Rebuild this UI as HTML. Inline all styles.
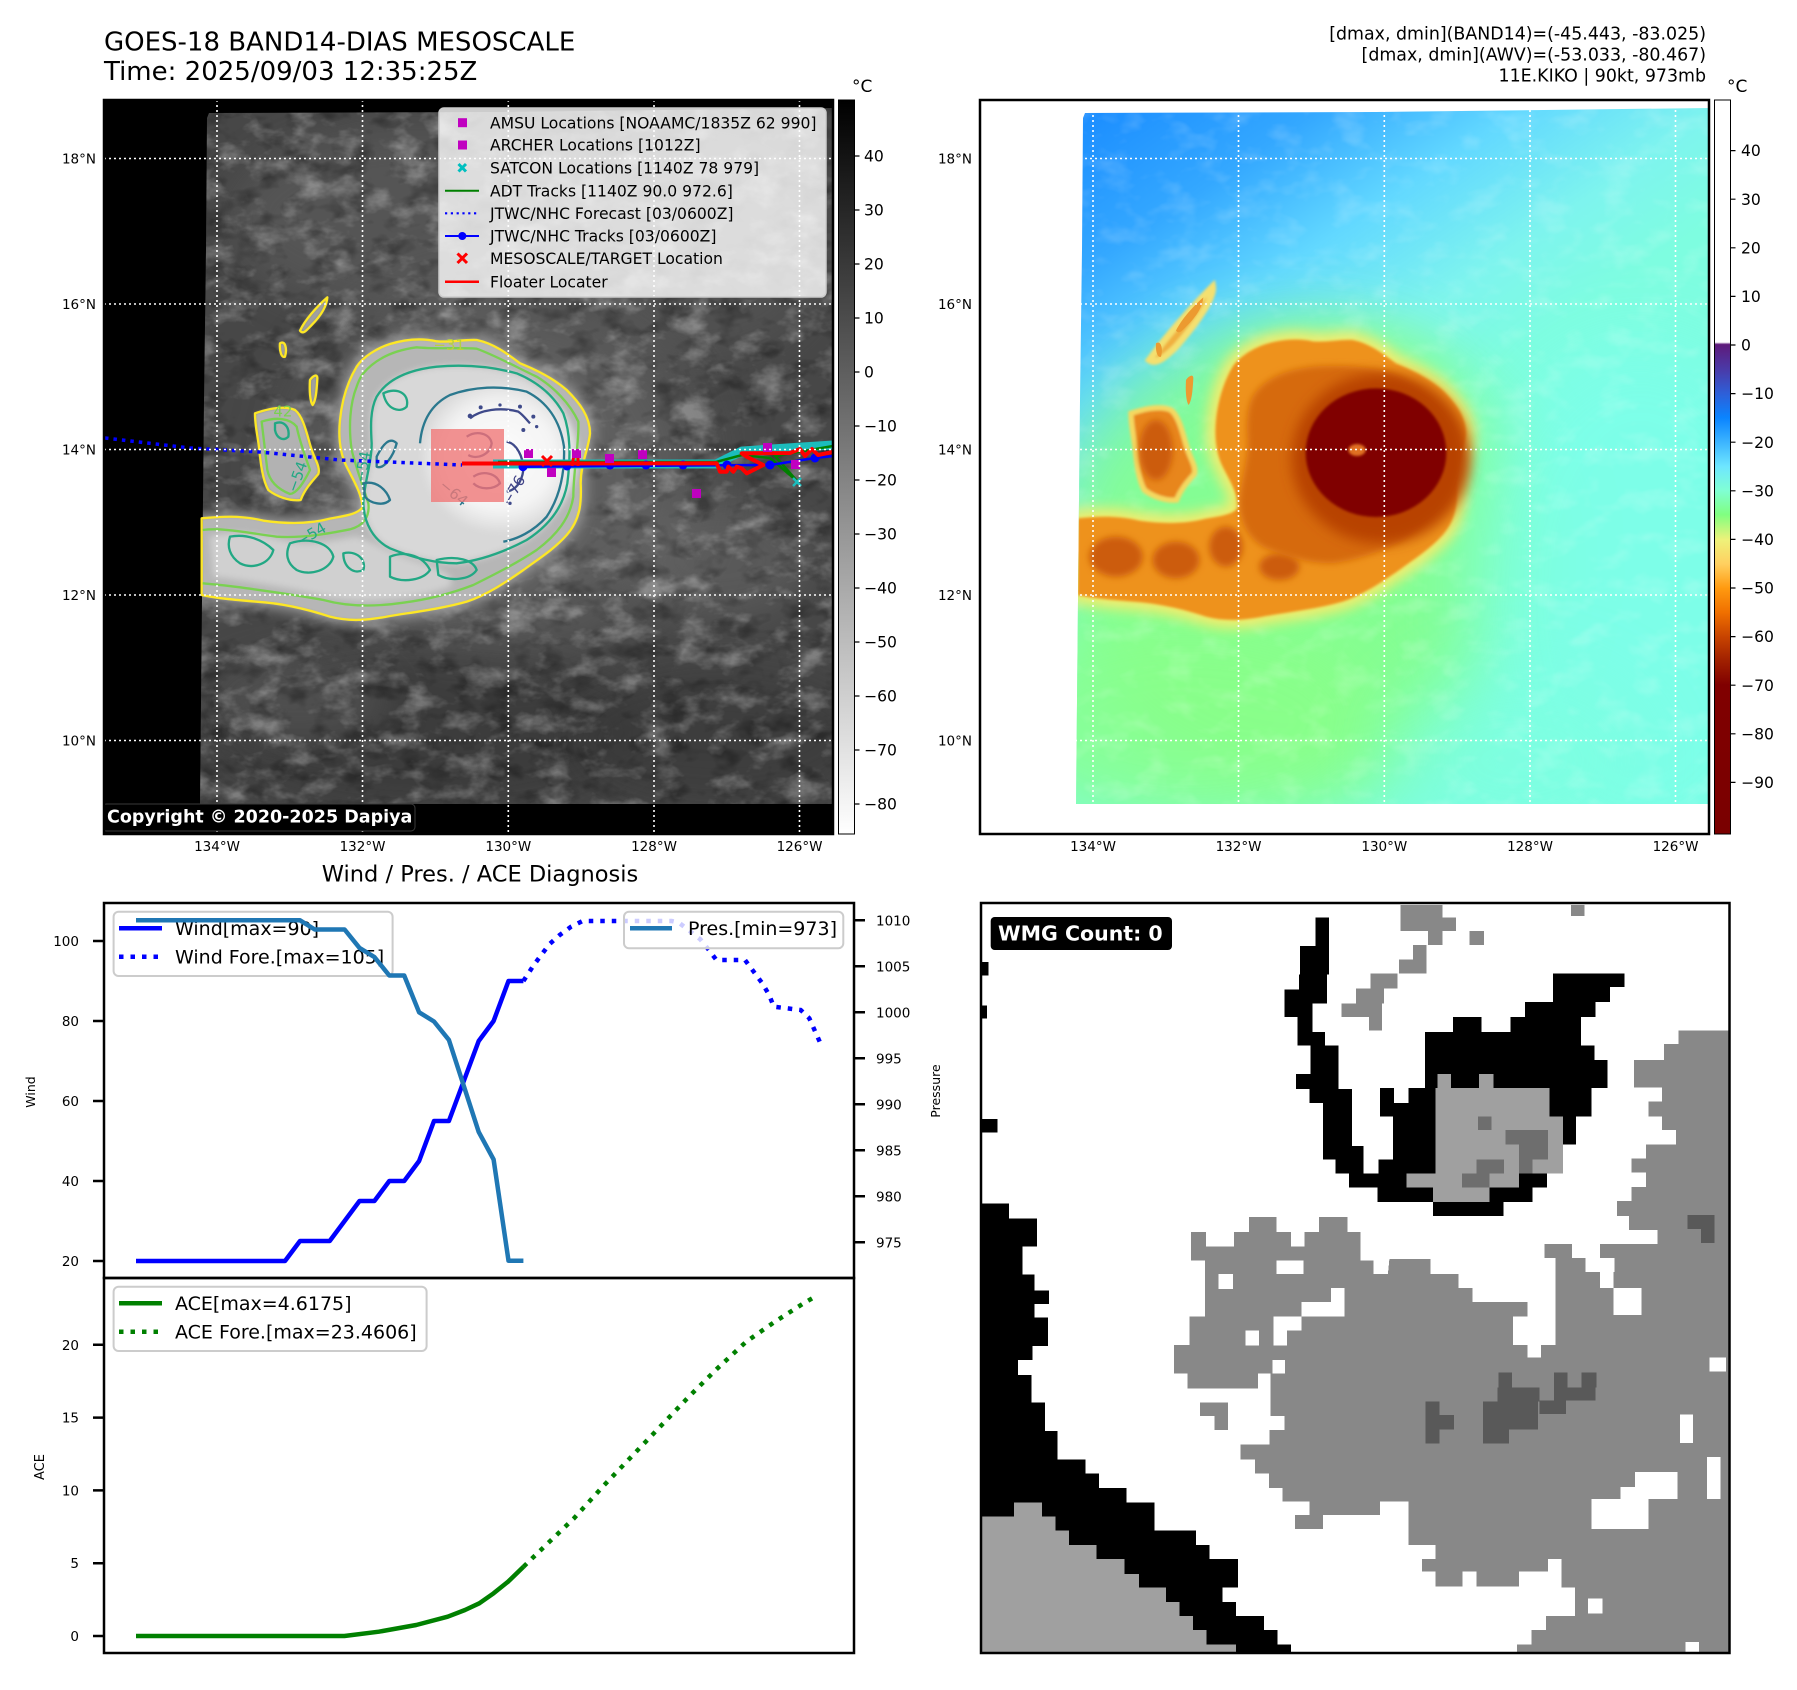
<!DOCTYPE html>
<html><head><meta charset="utf-8">
<style>
html,body{margin:0;padding:0;background:#fff;}
svg{display:block;}
text{font-family:"DejaVu Sans","Liberation Sans",sans-serif;}
</style></head><body>
<svg xmlns="http://www.w3.org/2000/svg" width="1797" height="1690" viewBox="0 0 1797 1690">
<defs>
<clipPath id="d1"><path d="M207,118 L209,113 L500,112 L833,108 L833,804 L200,804 L202,600 L204,400 L206,250 Z"/></clipPath>
<clipPath id="d2"><path d="M1083,118 L1085,113 L1376,112 L1709,108 L1709,804 L1076,804 L1078,600 L1080,400 L1082,250 Z"/></clipPath>
<clipPath id="m1"><rect x="104" y="100" width="729" height="734"/></clipPath>
<clipPath id="m2"><rect x="980" y="100" width="729" height="734"/></clipPath>
<clipPath id="wm"><rect x="981" y="903" width="748.5" height="750"/></clipPath>
<filter id="bl4" x="-50%" y="-50%" width="200%" height="200%"><feGaussianBlur stdDeviation="4"/></filter>
<filter id="bl10" x="-50%" y="-50%" width="200%" height="200%"><feGaussianBlur stdDeviation="10"/></filter>
<filter id="bl20" x="-50%" y="-50%" width="200%" height="200%"><feGaussianBlur stdDeviation="20"/></filter>
<filter id="bl35" x="-50%" y="-50%" width="200%" height="200%"><feGaussianBlur stdDeviation="35"/></filter>
<filter id="nz1" filterUnits="userSpaceOnUse" x="104" y="100" width="729" height="734">
<feTurbulence type="fractalNoise" baseFrequency="0.028 0.045" numOctaves="4" seed="4"/>
<feColorMatrix type="matrix" values="0 0 0 0 1  0 0 0 0 1  0 0 0 0 1  3 0 0 0 -1.45"/></filter>
<filter id="nz2" filterUnits="userSpaceOnUse" x="104" y="100" width="729" height="734">
<feTurbulence type="fractalNoise" baseFrequency="0.035 0.05" numOctaves="3" seed="11"/>
<feColorMatrix type="matrix" values="0 0 0 0 0  0 0 0 0 0  0 0 0 0 0  3 0 0 0 -1.45"/></filter>
<filter id="nz3" filterUnits="userSpaceOnUse" x="980" y="100" width="729" height="734">
<feTurbulence type="fractalNoise" baseFrequency="0.03 0.045" numOctaves="3" seed="5"/>
<feColorMatrix type="matrix" values="0 0 0 0 1  0 0 0 0 1  0 0 0 0 1  3 0 0 0 -1.45"/></filter>
<linearGradient id="cbg" x1="0" y1="0" x2="0" y2="1">
<stop offset="0" stop-color="#000"/><stop offset="1" stop-color="#fff"/></linearGradient>
<linearGradient id="cbc" x1="0" y1="0" x2="0" y2="1">
<stop offset="0" stop-color="#fff"/><stop offset="0.330" stop-color="#fff"/>
<stop offset="0.333" stop-color="#5e1a7a"/><stop offset="0.367" stop-color="#4a3aa8"/>
<stop offset="0.400" stop-color="#2e5fd8"/><stop offset="0.433" stop-color="#0a84ff"/>
<stop offset="0.466" stop-color="#3cb4ff"/><stop offset="0.499" stop-color="#6ee6ff"/>
<stop offset="0.532" stop-color="#80ffd4"/><stop offset="0.565" stop-color="#80ff80"/>
<stop offset="0.599" stop-color="#eef27a"/><stop offset="0.632" stop-color="#ffd060"/>
<stop offset="0.665" stop-color="#ff9a10"/><stop offset="0.698" stop-color="#f07000"/>
<stop offset="0.731" stop-color="#c84400"/><stop offset="0.764" stop-color="#a02000"/>
<stop offset="0.797" stop-color="#800000"/><stop offset="1" stop-color="#7a0000"/></linearGradient>
<linearGradient id="skyg" gradientUnits="userSpaceOnUse" x1="1080" y1="110" x2="1330" y2="480">
<stop offset="0" stop-color="#1a8cff"/><stop offset="0.3" stop-color="#34a8ff"/>
<stop offset="0.55" stop-color="#62d8ff"/><stop offset="0.8" stop-color="#7ef4ee"/>
<stop offset="1" stop-color="#7efde0"/></linearGradient>
<radialGradient id="coreg" cx="0.5" cy="0.5" r="0.5">
<stop offset="0" stop-color="#fdfdfd"/><stop offset="0.7" stop-color="#f4f4f4"/><stop offset="1" stop-color="#dcdcdc"/></radialGradient>
<path id="pout" d="M500,290 C520,260 560,235 600,222 C650,207 700,205 740,214 C780,218 820,208 860,210 C910,220 950,250 990,280 C1040,300 1090,325 1130,360 C1170,400 1200,440 1200,490 C1195,540 1172,580 1172,640 C1175,700 1170,750 1130,795 C1090,840 1040,870 1000,900 C950,935 890,975 830,995 C760,1015 680,1025 600,1038 C540,1050 480,1056 420,1040 C360,1020 280,1000 200,995 C140,990 80,985 35,975 L35,745 C90,740 150,735 220,752 C290,762 360,762 420,746 C460,738 500,735 518,712 C515,670 490,630 470,590 C450,550 445,500 450,450 C455,400 470,340 500,290 Z"/>
<path id="pisl" d="M195,430 C230,418 280,405 315,420 C340,440 350,490 362,530 C372,565 392,590 385,612 C370,630 345,655 332,690 C300,694 260,680 235,660 C218,630 212,580 208,540 C204,500 195,470 195,430 Z"/>
<path id="pstr" d="M330,182 C345,150 380,110 412,82 C410,110 390,140 365,165 C350,180 340,195 330,182 Z M360,330 C368,318 382,310 382,325 C380,360 378,390 368,405 C360,395 358,360 360,330 Z M270,220 C285,210 292,235 285,260 C275,265 268,245 270,220 Z"/>
<path id="pmid" d="M560,380 C590,330 650,300 740,290 C820,283 900,288 980,310 C1040,335 1090,375 1120,430 C1142,490 1142,560 1132,640 C1120,710 1080,765 1010,810 C950,842 880,870 800,880 C730,880 660,860 600,835 C550,810 522,760 520,700 C522,640 545,580 545,520 C542,470 540,420 560,380 Z"/>
<path id="pband" d="M60,800 C120,780 200,790 280,810 C360,830 430,810 500,800 C560,820 620,860 700,880 C760,900 800,920 780,950 C720,975 640,985 560,990 C480,995 400,980 320,960 C240,945 150,930 70,920 Z"/>
</defs>

<rect x="0" y="0" width="1797" height="1690" fill="#fff"/>

<!-- Titles -->
<text x="104" y="50.5" font-size="26">GOES-18 BAND14-DIAS MESOSCALE</text>
<text x="104" y="80" font-size="26">Time: 2025/09/03 12:35:25Z</text>
<text x="1706" y="39.5" font-size="17.4" text-anchor="end">[dmax, dmin](BAND14)=(-45.443, -83.025)</text>
<text x="1706" y="60.5" font-size="17.4" text-anchor="end">[dmax, dmin](AWV)=(-53.033, -80.467)</text>
<text x="1706" y="81.5" font-size="17.4" text-anchor="end">11E.KIKO | 90kt, 973mb</text>

<!-- ================= MAP 1 (grayscale) ================= -->
<g clip-path="url(#m1)">
<rect x="104" y="100" width="729" height="734" fill="#000"/>
<g clip-path="url(#d1)">
<rect x="104" y="100" width="729" height="734" fill="#474747"/>
<ellipse cx="420" cy="220" rx="190" ry="95" fill="#646464" opacity="0.5" filter="url(#bl20)"/>
<ellipse cx="700" cy="250" rx="130" ry="110" fill="#5a5a5a" opacity="0.5" filter="url(#bl20)"/>
<ellipse cx="720" cy="560" rx="90" ry="60" fill="#666" opacity="0.6" filter="url(#bl20)"/>
<ellipse cx="430" cy="730" rx="220" ry="80" fill="#363636" opacity="0.6" filter="url(#bl20)"/>
<ellipse cx="720" cy="740" rx="150" ry="70" fill="#383838" opacity="0.6" filter="url(#bl20)"/>
<ellipse cx="300" cy="700" rx="90" ry="40" fill="#5c5c5c" opacity="0.6" filter="url(#bl20)"/>
<ellipse cx="500" cy="470" rx="200" ry="175" fill="#6e6e6e" opacity="0.6" filter="url(#bl35)"/>
<rect x="104" y="100" width="729" height="734" filter="url(#nz1)" opacity="0.3"/>
<rect x="104" y="100" width="729" height="734" filter="url(#nz2)" opacity="0.3"/>
<g transform="translate(190,270) scale(0.33333)">
<use href="#pout" fill="#9a9a9a" stroke="#9a9a9a" stroke-width="30" filter="url(#bl20)"/>
<use href="#pout" fill="#b6b6b6" filter="url(#bl4)"/>
<use href="#pisl" fill="#b2b2b2" filter="url(#bl4)"/>
<use href="#pstr" fill="#a0a0a0" filter="url(#bl4)"/>
<use href="#pband" fill="#d0d0d0" filter="url(#bl10)"/>
<use href="#pmid" fill="#d8d8d8" filter="url(#bl10)"/>
<ellipse cx="930" cy="560" rx="235" ry="225" fill="url(#coreg)" filter="url(#bl10)"/>
</g>
</g>
<!-- contours -->
<g transform="translate(190,270) scale(0.33333)" fill="none" stroke-width="7" stroke-linejoin="round">
<use href="#pout" stroke="#fde725"/>
<use href="#pisl" stroke="#fde725"/>
<use href="#pstr" stroke="#fde725"/>
<path stroke="#7ad151" d="M520,310 C560,262 620,240 680,232 C740,238 800,232 860,236 C920,258 980,292 1040,320 C1090,350 1140,400 1165,455 C1168,520 1150,600 1150,680 C1140,745 1100,795 1040,840 C980,880 910,915 850,945 C790,968 720,988 640,998 C560,1010 480,1012 400,990 C320,975 220,962 150,952 C100,945 60,942 38,940 M38,780 C100,772 180,790 260,800 C340,805 420,790 480,778 C520,768 540,740 535,700 C520,650 500,600 485,540 C475,470 480,400 500,350 C505,335 512,320 520,310"/>
<path stroke="#7ad151" d="M215,455 C260,440 300,445 320,470 C330,520 350,570 360,600 C340,640 320,670 300,672 C270,660 240,640 232,600 C226,550 220,500 215,455 Z"/>
<use href="#pmid" stroke="#22a884"/>
<path stroke="#22a884" d="M120,800 C170,790 220,810 250,840 C240,880 190,900 150,880 C120,860 110,830 120,800 Z M300,820 C360,800 420,820 430,860 C420,900 360,920 320,900 C290,880 285,850 300,820 Z M600,860 C650,840 700,860 720,900 C700,930 640,940 600,920 Z M740,870 C800,855 850,870 860,900 C840,930 780,935 745,915 Z M255,460 C280,450 300,470 295,500 C280,515 260,505 255,480 Z M580,370 C620,350 660,370 650,410 C630,430 590,420 580,370 Z M460,850 C500,840 530,870 520,900 C490,915 460,890 460,850 Z"/>
<path stroke="#2a788e" d="M690,520 C695,460 720,405 780,375 C850,350 930,345 1010,365 C1070,395 1110,450 1122,530 C1125,610 1110,680 1070,740 C1030,785 980,808 940,815 M560,560 C580,520 600,500 620,520 C610,560 580,600 560,590 Z M520,640 C560,630 590,660 600,690 C580,710 540,700 525,680 Z"/>
<path stroke="#3f4a8a" d="M840,445 C870,420 930,410 985,425 C1000,435 1010,450 1020,460 M830,500 C860,480 900,490 905,520 C900,555 860,570 835,555 M950,515 C980,520 1000,560 1000,600 C995,640 975,660 950,665 M850,620 C880,600 920,610 930,640 C910,660 870,660 850,640"/>
<g fill="#3f4a8a" stroke="none">
<circle cx="840" cy="438" r="7"/><circle cx="872" cy="412" r="6"/><circle cx="990" cy="410" r="6"/><circle cx="1030" cy="440" r="6"/><circle cx="1040" cy="470" r="5"/><circle cx="1000" cy="480" r="6"/><circle cx="930" cy="405" r="5"/><circle cx="960" cy="700" r="5"/>
</g>
<g stroke="none" font-size="45">
<text x="730" y="240" fill="#b8d040">−31</text>
<text x="250" y="440" fill="#7ad151">42</text>
<text x="320" y="670" fill="#22a884" transform="rotate(-70 320 670)">−54</text>
<text x="525" y="640" fill="#22a884" transform="rotate(-80 525 640)">−54</text>
<text x="330" y="830" fill="#22a884" transform="rotate(-30 330 830)">−54</text>
<text x="745" y="650" fill="#2a788e" transform="rotate(40 745 650)">−64</text>
<text x="960" y="710" fill="#414487" transform="rotate(-60 960 710)">−76</text>
</g>
</g>
<!-- pink box -->
<rect x="431" y="429" width="73" height="73" fill="#f07878" opacity="0.8"/>
<!-- tracks -->
<path d="M105,438 L190,448 L260,452 L340,460 L462,465" fill="none" stroke="#0000ff" stroke-width="3.5" stroke-dasharray="3.5 5"/>
<path d="M493,464 L716,464 L742,451 L833,445" fill="none" stroke="#1cbcbc" stroke-width="9"/>
<path d="M498,462 L716,462 L742,455 L770,458 L797,481 L775,456 L833,446" fill="none" stroke="#008000" stroke-width="2.5"/>
<path d="M523,466.7 L770,465 L815,458 L833,456" fill="none" stroke="#0000ff" stroke-width="2.5"/>
<g fill="#0000ff"><circle cx="523" cy="466.7" r="4.5"/><circle cx="567" cy="466" r="4.5"/><circle cx="610" cy="465" r="4.5"/><circle cx="646" cy="465" r="4.5"/><circle cx="683" cy="465" r="4.5"/><circle cx="727" cy="465" r="4.5"/><circle cx="770" cy="465" r="4.5"/><circle cx="815" cy="458" r="4.5"/></g>
<path d="M462,463.5 L716.7,463.3 L720,471.7 L726.7,471.7 L728.3,466.7 L733.3,471.7 L736.7,466.7 L741.7,468.3 L746.7,473.3 L763.3,465 L746.7,456.7 L741.7,453.3 L790,453 L800,449 L805,456 L812,449 L818,455 L833,452" fill="none" stroke="#ff0000" stroke-width="4" stroke-linejoin="round"/>
<path d="M572,466 L574,455 M578,466 L578,456" stroke="#ff0000" stroke-width="3"/>
<g fill="#c000c0"><rect x="524" y="449" width="9" height="9"/><rect x="547" y="468" width="9" height="9"/><rect x="572" y="449" width="9" height="9"/><rect x="605" y="454" width="9" height="9"/><rect x="638" y="450" width="9" height="9"/><rect x="692" y="489" width="9" height="9"/><rect x="763" y="443" width="9" height="9"/><rect x="791" y="460" width="9" height="9"/></g>
<path d="M793,478 L801,486 M801,478 L793,486" stroke="#1cbcbc" stroke-width="2.5"/>
<path d="M542,456 L552,466 M552,456 L542,466" stroke="#ff0000" stroke-width="3"/>
<!-- gridlines -->
<g stroke="#fff" stroke-width="1.6" stroke-dasharray="2 3" fill="none">
<path d="M217,100 V834 M362.5,100 V834 M508.3,100 V834 M654,100 V834 M799.5,100 V834"/>
<path d="M104,158.5 H833 M104,304 H833 M104,449.5 H833 M104,595 H833 M104,740.5 H833"/>
</g>
<!-- legend -->
<rect x="439" y="108" width="387" height="189" rx="5" fill="#fff" fill-opacity="0.8" stroke="#cccccc" stroke-width="1.5"/>
<g font-size="15.6" fill="#000">
<text x="490" y="128.3">AMSU Locations [NOAAMC/1835Z 62 990]</text>
<text x="490" y="150.6">ARCHER Locations [1012Z]</text>
<text x="490" y="173.3">SATCON Locations [1140Z 78 979]</text>
<text x="490" y="196.3">ADT Tracks [1140Z 90.0 972.6]</text>
<text x="490" y="218.9">JTWC/NHC Forecast [03/0600Z]</text>
<text x="490" y="241.6">JTWC/NHC Tracks [03/0600Z]</text>
<text x="490" y="263.9">MESOSCALE/TARGET Location</text>
<text x="490" y="287.3">Floater Locater</text>
</g>
<rect x="458" y="118.2" width="9" height="9" fill="#c000c0"/>
<rect x="458" y="140.5" width="9" height="9" fill="#c000c0"/>
<path d="M458.5,164 L466,171.5 M466,164 L458.5,171.5" stroke="#00bfbf" stroke-width="3"/>
<path d="M445,190.7 H479" stroke="#008000" stroke-width="2"/>
<path d="M445,213.3 H479" stroke="#0000ff" stroke-width="2.2" stroke-dasharray="2.2 3.6"/>
<path d="M445,236 H479" stroke="#0000ff" stroke-width="2"/><circle cx="462.3" cy="236" r="4" fill="#0000ff"/>
<path d="M457.5,253.5 L467,263 M467,253.5 L457.5,263" stroke="#ff0000" stroke-width="3"/>
<path d="M445,281.7 H479" stroke="#ff0000" stroke-width="2.5"/>
<!-- copyright -->
<rect x="102.5" y="804" width="312.5" height="27" rx="4" fill="#000" stroke="#3a3a3a" stroke-width="1"/>
<text x="107" y="822.5" font-size="17.5" font-weight="bold" fill="#fff">Copyright © 2020-2025 Dapiya</text>
</g>
<rect x="104" y="100" width="729" height="734" fill="none" stroke="#000" stroke-width="2.5"/>
<!-- cb1 -->
<rect x="838.5" y="100" width="16" height="734" fill="url(#cbg)" stroke="#000" stroke-width="1"/>
<text x="852" y="92" font-size="17">°C</text>
<g stroke="#000" stroke-width="1.2"><path d="M854.5,156 h5 M854.5,210 h5 M854.5,264 h5 M854.5,318 h5 M854.5,372 h5 M854.5,426 h5 M854.5,480 h5 M854.5,534 h5 M854.5,588 h5 M854.5,642 h5 M854.5,696 h5 M854.5,750 h5 M854.5,804 h5"/></g>
<g font-size="15.6">
<text x="864" y="161.6">40</text><text x="864" y="215.6">30</text><text x="864" y="269.6">20</text><text x="864" y="323.6">10</text><text x="864" y="377.6">0</text><text x="864" y="431.6">−10</text><text x="864" y="485.6">−20</text><text x="864" y="539.6">−30</text><text x="864" y="593.6">−40</text><text x="864" y="647.6">−50</text><text x="864" y="701.6">−60</text><text x="864" y="755.6">−70</text><text x="864" y="809.6">−80</text>
</g>
<!-- map tick labels -->
<g font-size="13.5" text-anchor="end">
<text x="96" y="163.5">18°N</text><text x="96" y="309">16°N</text><text x="96" y="454.5">14°N</text><text x="96" y="600">12°N</text><text x="96" y="745.5">10°N</text>
<text x="972" y="163.5">18°N</text><text x="972" y="309">16°N</text><text x="972" y="454.5">14°N</text><text x="972" y="600">12°N</text><text x="972" y="745.5">10°N</text>
</g>
<g font-size="13.5" text-anchor="middle">
<text x="217" y="851">134°W</text><text x="362.5" y="851">132°W</text><text x="508.3" y="851">130°W</text><text x="654" y="851">128°W</text><text x="799.5" y="851">126°W</text>
<text x="1093" y="851">134°W</text><text x="1238.5" y="851">132°W</text><text x="1384.3" y="851">130°W</text><text x="1530" y="851">128°W</text><text x="1675.5" y="851">126°W</text>
</g>

<!-- ================= MAP 2 (color) ================= -->
<g clip-path="url(#m2)">
<rect x="980" y="100" width="729" height="734" fill="#fff"/>
<g clip-path="url(#d2)">
<rect x="980" y="100" width="729" height="734" fill="url(#skyg)"/>
<ellipse cx="1300" cy="560" rx="250" ry="230" fill="#86ff86" opacity="0.85" filter="url(#bl35)"/>
<ellipse cx="1190" cy="720" rx="200" ry="110" fill="#8aff88" opacity="0.8" filter="url(#bl35)"/>
<ellipse cx="1330" cy="380" rx="120" ry="60" fill="#8aff90" opacity="0.6" filter="url(#bl20)"/>
<ellipse cx="1640" cy="600" rx="170" ry="260" fill="#7dffea" opacity="0.8" filter="url(#bl35)"/>
<ellipse cx="1520" cy="760" rx="130" ry="90" fill="#7effe0" opacity="0.7" filter="url(#bl35)"/>
<rect x="980" y="100" width="729" height="734" filter="url(#nz3)" opacity="0.15"/>
<g transform="translate(1066,270) scale(0.33333)">
<use href="#pout" fill="#f4ec6c" stroke="#f4ec6c" stroke-width="50" filter="url(#bl20)"/>
<path d="M250,270 C300,200 380,110 440,50 C445,80 400,150 330,230 C300,260 270,285 250,270 Z" fill="#f0b040" stroke="#f4e070" stroke-width="20" filter="url(#bl4)"/>
<use href="#pisl" fill="#e8861a" stroke="#f4d860" stroke-width="16" filter="url(#bl4)"/>
<use href="#pout" fill="#ee921c" filter="url(#bl4)"/>
<use href="#pstr" fill="#ec9a30"/>
<g fill="#cc5c0a" filter="url(#bl10)">
<ellipse cx="150" cy="860" rx="80" ry="60"/><ellipse cx="330" cy="870" rx="70" ry="55"/><ellipse cx="480" cy="830" rx="50" ry="60"/><ellipse cx="640" cy="890" rx="60" ry="40"/><ellipse cx="270" cy="540" rx="50" ry="90"/>
</g>
<use href="#pmid" fill="#d66a0a" filter="url(#bl10)"/>
<ellipse cx="945" cy="565" rx="268" ry="255" fill="#b84200" filter="url(#bl20)"/>
<ellipse cx="930" cy="548" rx="211" ry="193" fill="#800000" filter="url(#bl4)"/>
<ellipse cx="873" cy="540" rx="26" ry="18" fill="#e07020" filter="url(#bl4)"/>
</g>
</g>
<g stroke="#fff" stroke-width="1.6" stroke-dasharray="2 3" fill="none">
<path d="M1093,100 V834 M1238.5,100 V834 M1384.3,100 V834 M1530,100 V834 M1675.5,100 V834"/>
<path d="M980,158.5 H1709 M980,304 H1709 M980,449.5 H1709 M980,595 H1709 M980,740.5 H1709"/>
</g>
</g>
<rect x="980" y="100" width="729" height="734" fill="none" stroke="#000" stroke-width="2.5"/>
<!-- cb2 -->
<rect x="1714.5" y="100" width="16" height="734" fill="url(#cbc)" stroke="#000" stroke-width="1"/>
<text x="1727" y="92" font-size="17">°C</text>
<g stroke="#000" stroke-width="1.2"><path d="M1730.5,150.6 h5 M1730.5,199.2 h5 M1730.5,247.8 h5 M1730.5,296.4 h5 M1730.5,345 h5 M1730.5,393.6 h5 M1730.5,442.2 h5 M1730.5,490.8 h5 M1730.5,539.4 h5 M1730.5,588 h5 M1730.5,636.6 h5 M1730.5,685.2 h5 M1730.5,733.8 h5 M1730.5,782.4 h5"/></g>
<g font-size="15.6">
<text x="1741" y="156.2">40</text><text x="1741" y="204.8">30</text><text x="1741" y="253.4">20</text><text x="1741" y="302">10</text><text x="1741" y="350.6">0</text><text x="1741" y="399.2">−10</text><text x="1741" y="447.8">−20</text><text x="1741" y="496.4">−30</text><text x="1741" y="545">−40</text><text x="1741" y="593.6">−50</text><text x="1741" y="642.2">−60</text><text x="1741" y="690.8">−70</text><text x="1741" y="739.4">−80</text><text x="1741" y="788">−90</text>
</g>

<!-- ================= CHART ================= -->
<text x="480" y="881.5" font-size="22.5" text-anchor="middle">Wind / Pres. / ACE Diagnosis</text>
<path d="M136,1261 L285,1261 L300,1241 L329.7,1241 L344.6,1221 L359.5,1201 L374.4,1201 L389.3,1181 L404.2,1181 L419.1,1161 L434,1121 L448.9,1121 L463.8,1081 L478.7,1041 L493.6,1021 L508.5,981 L523.4,981" fill="none" stroke="#0000ff" stroke-width="4.5" stroke-linejoin="round"/>
<path d="M523.4,981 L533.8,965 L549.3,944.3 L559.7,935 L571.1,926.7 L582.6,921 L671.6,921 L679,922.7 L700.3,939.3 L708.9,950 L716.4,960 L745,960 L753.7,971.7 L762.3,983.3 L769.2,995 L773.8,1006.7 L800.7,1010 L809.3,1018.3 L819.7,1041.7" fill="none" stroke="#0000ff" stroke-width="4.5" stroke-dasharray="4.5 7"/>
<rect x="113.6" y="911.7" width="279" height="64.3" rx="5" fill="#fff" fill-opacity="0.8" stroke="#cccccc" stroke-width="2"/>
<path d="M119,928.3 H162" stroke="#0000ff" stroke-width="4.5"/>
<path d="M119,956.7 H162" stroke="#0000ff" stroke-width="4.5" stroke-dasharray="4.5 7"/>
<text x="175" y="935" font-size="19">Wind[max=90]</text>
<text x="175" y="963.5" font-size="19">Wind Fore.[max=105]</text>
<path d="M136,920.3 L300,920.3 L314.8,929.5 L344.6,929.5 L359.5,947.9 L374.4,957.1 L389.3,975.5 L404.2,975.5 L419.1,1012.3 L434,1021.5 L448.9,1039.9 L463.8,1085.9 L478.7,1131.9 L493.6,1159.5 L508.5,1260.7 L523.4,1260.7" fill="none" stroke="#1f77b4" stroke-width="4.5" stroke-linejoin="round"/>
<rect x="624" y="911.7" width="219.3" height="36.6" rx="5" fill="#fff" fill-opacity="0.8" stroke="#cccccc" stroke-width="2"/>
<path d="M630,928.3 H672" stroke="#1f77b4" stroke-width="4.5"/>
<text x="688" y="935" font-size="19">Pres.[min=973]</text>
<rect x="104" y="903" width="750" height="375" fill="none" stroke="#000" stroke-width="2.5"/>
<g stroke="#000" stroke-width="2.5">
<path d="M93,941 H104 M93,1021 H104 M93,1101 H104 M93,1181 H104 M93,1261 H104"/>
<path d="M854,920.3 H865 M854,966.3 H865 M854,1012.3 H865 M854,1058.3 H865 M854,1104.3 H865 M854,1150.3 H865 M854,1196.3 H865 M854,1242.3 H865"/>
<path d="M93,1636 H104 M93,1563.2 H104 M93,1490.4 H104 M93,1417.6 H104 M93,1344.8 H104"/>
</g>
<g font-size="13.5" text-anchor="end">
<text x="79" y="946">100</text><text x="79" y="1026">80</text><text x="79" y="1106">60</text><text x="79" y="1186">40</text><text x="79" y="1266">20</text>
<text x="79" y="1641">0</text><text x="79" y="1568.2">5</text><text x="79" y="1495.4">10</text><text x="79" y="1422.6">15</text><text x="79" y="1349.8">20</text>
</g>
<g font-size="13.5">
<text x="876" y="925.3">1010</text><text x="876" y="971.3">1005</text><text x="876" y="1017.3">1000</text><text x="876" y="1063.3">995</text><text x="876" y="1109.3">990</text><text x="876" y="1155.3">985</text><text x="876" y="1201.3">980</text><text x="876" y="1247.3">975</text>
</g>
<text x="35" y="1092" font-size="12.5" text-anchor="middle" transform="rotate(-90 35 1092)">Wind</text>
<text x="940" y="1091" font-size="12.5" text-anchor="middle" transform="rotate(-90 940 1091)">Pressure</text>
<text x="44" y="1467" font-size="13" text-anchor="middle" transform="rotate(-90 44 1467)">ACE</text>
<!-- ACE -->
<path d="M136,1636 L344.4,1636 L378.8,1631.7 L416.2,1625 L447.7,1616.7 L465,1610 L479.3,1603.3 L493.6,1593.3 L508,1581.7 L523.5,1566.7" fill="none" stroke="#008000" stroke-width="4.5" stroke-linejoin="round"/>
<path d="M523.5,1566.7 L533.8,1556.7 L574,1518.3 L602.7,1486.7 L631.4,1456.7 L660.1,1426.7 L688.8,1396.7 L717.5,1368.3 L746.2,1341.7 L774.9,1321.7 L803.6,1303.3 L818,1295" fill="none" stroke="#008000" stroke-width="4.5" stroke-dasharray="4.5 7"/>
<rect x="113.6" y="1286.7" width="313" height="64.3" rx="5" fill="#fff" fill-opacity="0.8" stroke="#cccccc" stroke-width="2"/>
<path d="M119,1303.3 H162" stroke="#008000" stroke-width="4.5"/>
<path d="M119,1331.7 H162" stroke="#008000" stroke-width="4.5" stroke-dasharray="4.5 7"/>
<text x="175" y="1310" font-size="19">ACE[max=4.6175]</text>
<text x="175" y="1338.5" font-size="19">ACE Fore.[max=23.4606]</text>
<rect x="104" y="1278" width="750" height="375" fill="none" stroke="#000" stroke-width="2.5"/>

<!-- ================= WMG PANEL ================= -->
<g clip-path="url(#wm)">
<rect x="981" y="903" width="748.5" height="750" fill="#fff"/>
<g transform="translate(980,900) scale(0.4845,0.4973)" shape-rendering="crispEdges">
<path fill="#888888" d="M436,668 L466,668 L466,697 L524,697 L524,668 L555,668 L555,637 L612,637 L612,668 L642,668 L642,697 L670,697 L670,668 L700,668 L700,637 L758,637 L758,668 L785,668 L785,725 L812,725 L812,752 L842,752 L845,722 L930,722 L930,752 L988,752 L988,780 L1016,780 L1016,808 L1130,808 L1130,838 L1100,838 L1100,895 L1188,895 L1188,720 L1165,720 L1165,692 L1222,692 L1222,720 L1280,720 L1280,692 L1398,692 L1398,664 L1340,664 L1340,635 L1315,635 L1315,605 L1345,605 L1345,577 L1375,577 L1375,548 L1345,548 L1345,520 L1375,520 L1375,492 L1437,492 L1437,463 L1408,463 L1408,435 L1380,435 L1380,405 L1408,405 L1408,377 L1350,377 L1350,322 L1412,322 L1412,290 L1442,290 L1442,262 L1550,262 L1550,1514 L1108,1514 L1108,1497 L1138,1497 L1138,1468 L1168,1468 L1168,1440 L1228,1440 L1228,1382 L1200,1382 L1200,1325 L1172,1325 L1172,1350 L1112,1350 L1112,1380 L1025,1380 L1025,1350 L996,1350 L996,1380 L940,1380 L940,1350 L912,1350 L912,1325 L940,1325 L940,1297 L884,1297 L884,1210 L826,1210 L826,1237 L680,1237 L680,1210 L624,1210 L624,1182 L596,1182 L596,1153 L568,1153 L568,1125 L538,1125 L538,1095 L598,1095 L598,1066 L628,1066 L628,1038 L600,1038 L600,952 L574,952 L574,982 L428,982 L428,952 L400,952 L400,895 L432,895 L432,838 L464,838 L464,725 L436,725 Z"/>
<g fill="#888888">
<rect x="454" y="1010" width="58" height="28"/><rect x="484" y="1038" width="28" height="28"/><rect x="650" y="1237" width="58" height="28"/>
<rect x="868" y="10" width="87" height="25"/><rect x="868" y="35" width="114" height="27"/><rect x="925" y="62" width="30" height="28"/><rect x="1010" y="62" width="30" height="28"/><rect x="1220" y="10" width="28" height="22"/><rect x="894" y="90" width="28" height="30"/><rect x="865" y="120" width="57" height="28"/><rect x="806" y="148" width="56" height="30"/><rect x="776" y="178" width="58" height="30"/><rect x="746" y="208" width="84" height="27"/><rect x="803" y="235" width="27" height="27"/>
</g>
<g fill="#fff">
<rect x="612" y="725" width="56" height="27"/><rect x="492" y="752" width="30" height="30"/><rect x="724" y="780" width="28" height="28"/><rect x="664" y="808" width="88" height="30"/><rect x="606" y="838" width="58" height="28"/><rect x="548" y="866" width="28" height="30"/><rect x="606" y="866" width="28" height="30"/><rect x="604" y="925" width="26" height="27"/><rect x="1130" y="895" width="28" height="25"/><rect x="1250" y="720" width="60" height="28"/><rect x="1280" y="748" width="28" height="32"/><rect x="1308" y="780" width="57" height="55"/><rect x="1506" y="920" width="34" height="28"/><rect x="1445" y="1035" width="27" height="57"/><rect x="1500" y="1120" width="28" height="85"/><rect x="1352" y="1150" width="88" height="30"/><rect x="1322" y="1180" width="118" height="25"/><rect x="1262" y="1205" width="118" height="60"/><rect x="1255" y="1405" width="30" height="30"/><rect x="1456" y="1492" width="28" height="22"/>
</g>
<g fill="#595959">
<rect x="1070" y="950" width="28" height="30"/><rect x="1068" y="980" width="87" height="28"/><rect x="1038" y="1008" width="114" height="57"/><rect x="1038" y="1065" width="54" height="28"/><rect x="1185" y="950" width="28" height="30"/><rect x="1242" y="950" width="30" height="30"/><rect x="1185" y="980" width="85" height="26"/><rect x="1155" y="1006" width="55" height="28"/><rect x="920" y="1008" width="28" height="28"/><rect x="920" y="1036" width="58" height="29"/><rect x="920" y="1065" width="28" height="28"/><rect x="1460" y="633" width="56" height="29"/><rect x="1488" y="662" width="28" height="28"/>
</g>
<g fill="#000">
<rect x="692" y="35" width="28" height="57"/><rect x="660" y="92" width="60" height="58"/><rect x="658" y="150" width="58" height="30"/><rect x="628" y="180" width="88" height="28"/><rect x="628" y="208" width="58" height="27"/><rect x="655" y="235" width="31" height="30"/><rect x="655" y="265" width="57" height="28"/><rect x="682" y="293" width="58" height="57"/><rect x="652" y="350" width="88" height="30"/><rect x="680" y="380" width="88" height="28"/><rect x="708" y="408" width="60" height="87"/><rect x="708" y="495" width="84" height="27"/><rect x="734" y="522" width="58" height="28"/><rect x="762" y="550" width="60" height="28"/><rect x="820" y="578" width="115" height="29"/><rect x="935" y="607" width="145" height="28"/>
<rect x="1183" y="148" width="147" height="27"/><rect x="1183" y="175" width="117" height="30"/><rect x="1125" y="205" width="145" height="30"/><rect x="976" y="235" width="59" height="30"/><rect x="1095" y="235" width="145" height="30"/><rect x="918" y="265" width="322" height="28"/><rect x="918" y="293" width="350" height="29"/><rect x="918" y="322" width="377" height="28"/><rect x="918" y="350" width="26" height="28"/><rect x="972" y="350" width="58" height="28"/><rect x="1060" y="350" width="235" height="28"/><rect x="826" y="378" width="28" height="57"/><rect x="884" y="378" width="56" height="30"/><rect x="1175" y="378" width="87" height="57"/><rect x="852" y="408" width="88" height="142"/><rect x="1203" y="435" width="27" height="57"/><rect x="822" y="522" width="30" height="56"/><rect x="852" y="550" width="28" height="28"/><rect x="1112" y="550" width="58" height="28"/><rect x="1052" y="578" width="88" height="29"/>
<rect x="0" y="125" width="18" height="27"/><rect x="0" y="212" width="14" height="26"/><rect x="0" y="440" width="36" height="28"/><rect x="0" y="555" width="4" height="25"/>
<path d="M0,610 L60,610 L60,640 L118,640 L118,697 L88,697 L88,753 L112,753 L112,785 L142,785 L142,812 L112,812 L112,840 L140,840 L140,897 L108,897 L108,925 L78,925 L78,955 L106,955 L106,1010 L134,1010 L134,1068 L160,1068 L160,1125 L218,1125 L218,1153 L246,1153 L246,1182 L302,1182 L302,1212 L360,1212 L360,1268 L446,1268 L446,1297 L474,1297 L474,1325 L532,1325 L532,1382 L500,1382 L500,1412 L528,1412 L528,1440 L586,1440 L586,1468 L614,1468 L614,1497 L642,1497 L642,1530 L0,1530 Z"/>
</g>
<g fill="#a0a0a0">
<path d="M0,1240 L70,1240 L70,1212 L128,1212 L128,1240 L156,1240 L156,1268 L184,1268 L184,1297 L240,1297 L240,1325 L298,1325 L298,1355 L328,1355 L328,1382 L384,1382 L384,1412 L412,1412 L412,1440 L440,1440 L440,1468 L468,1468 L468,1497 L528,1497 L528,1530 L0,1530 Z"/>
<rect x="944" y="350" width="28" height="28"/><rect x="1030" y="350" width="30" height="28"/><rect x="940" y="378" width="235" height="172"/><rect x="1175" y="435" width="28" height="115"/><rect x="880" y="550" width="232" height="28"/><rect x="935" y="578" width="117" height="29"/>
</g>
<g fill="#6e6e6e">
<rect x="1028" y="435" width="28" height="28"/><rect x="1085" y="463" width="87" height="29"/><rect x="1112" y="492" width="60" height="30"/><rect x="1025" y="522" width="57" height="28"/><rect x="995" y="550" width="57" height="28"/><rect x="1112" y="522" width="28" height="28"/>
</g>
</g>
</g>
<rect x="981" y="903" width="748.5" height="750" fill="none" stroke="#000" stroke-width="2.5"/>
<rect x="990.7" y="917" width="181.3" height="33" rx="4" fill="#000"/>
<text x="998" y="940.5" font-size="20.5" font-weight="bold" fill="#fff">WMG Count: 0</text>
</svg>
</body></html>
